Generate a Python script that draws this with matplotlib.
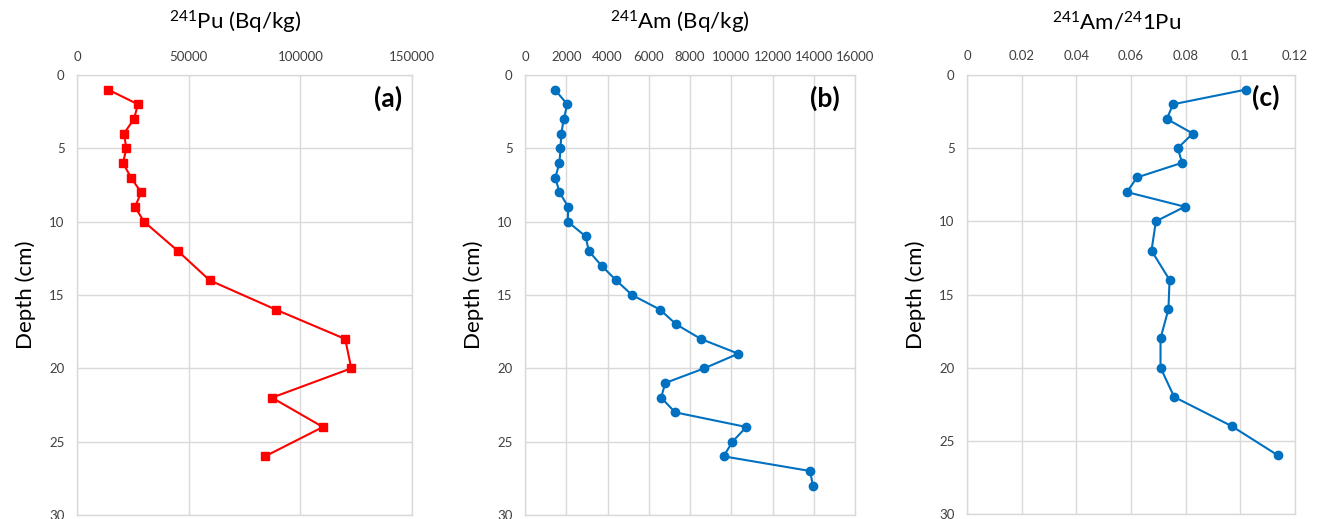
import matplotlib
matplotlib.use("Agg")
import matplotlib.pyplot as plt

plt.rcParams['font.family'] = ['Lato', 'DejaVu Sans']
plt.rcParams['mathtext.fontset'] = 'custom'
plt.rcParams['mathtext.rm'] = 'Lato'
plt.rcParams['mathtext.it'] = 'Lato:italic'
plt.rcParams['mathtext.bf'] = 'Lato:bold'

# --- data ---
depth_pu = [1, 2, 3, 4, 5, 6, 7, 8, 9, 10, 12, 14, 16, 18, 20, 22, 24, 26]
pu241 = [14000, 27300, 25500, 21000, 22100, 20600, 24200, 28700, 26000, 30000,
         45200, 59400, 89100, 120100, 122800, 87300, 110100, 84200]

depth_am = list(range(1, 29))
am241 = [1450, 2050, 1880, 1760, 1720, 1670, 1470, 1670, 2100, 2070,
         2940, 3090, 3710, 4420, 5190, 6550, 7330, 8530, 10340, 8690,
         6800, 6600, 7280, 10730, 10060, 9630, 13820, 13960]

depth_ratio = [1, 2, 3, 4, 5, 6, 7, 8, 9, 10, 12, 14, 16, 18, 20, 22, 24, 26]
ratio = [0.102, 0.0754, 0.0731, 0.0826, 0.0771, 0.0787, 0.0622, 0.0585, 0.0797,
         0.0691, 0.0675, 0.0741, 0.0737, 0.0708, 0.0708, 0.0758, 0.0969, 0.1138]

W, H = 1318, 519
fig = plt.figure(figsize=(W / 100, H / 100), dpi=100)


def make_axes(x0, x1, y0, y1):
    return fig.add_axes([x0 / W, 1 - y1 / H, (x1 - x0) / W, (y1 - y0) / H])


def style(ax, xmax, xticks, xticklabels, letter, lx):
    ax.set_ylim(30, 0)
    ax.set_xlim(0, xmax)
    ax.set_yticks([0, 5, 10, 15, 20, 25, 30])
    ax.set_xticks(xticks)
    ax.set_xticklabels(xticklabels)
    ax.xaxis.tick_top()
    ax.tick_params(length=0, labelsize=9.5, pad=9, colors='#404040')
    ax.grid(True, color='#d9d9d9', linewidth=1)
    ax.set_axisbelow(True)
    for s in ax.spines.values():
        s.set_color('#d9d9d9')
        s.set_linewidth(1)
    ax.set_ylabel('Depth (cm)', fontsize=16, labelpad=9)
    ax.text(lx, 0.948, letter, transform=ax.transAxes, ha='center', va='center',
            fontsize=19, fontweight='bold')


# (a) 241Pu
ax1 = make_axes(77, 412, 75, 515)
ax1.plot(pu241, depth_pu, color='#ff0000', marker='s', markersize=6, linewidth=1.5)
style(ax1, 150000, [0, 50000, 100000, 150000], ['0', '50000', '100000', '150000'], '(a)', 0.93)
fig.text(235 / W, 1 - 22 / H, r'$^{241}$Pu (Bq/kg)', ha='center', va='center', fontsize=16)

# (b) 241Am
ax2 = make_axes(525, 855, 75, 515)
ax2.plot(am241, depth_am, color='#0070c0', marker='o', markersize=6, linewidth=1.5)
bt = list(range(0, 16001, 2000))
style(ax2, 16000, bt, [str(v) for v in bt], '(b)', 0.91)
fig.text(680 / W, 1 - 22 / H, r'$^{241}$Am (Bq/kg)', ha='center', va='center', fontsize=16)

# (c) ratio
ax3 = make_axes(967, 1295, 75, 514)
ax3.plot(ratio, depth_ratio, color='#0070c0', marker='o', markersize=6, linewidth=1.5)
ct = [0, 0.02, 0.04, 0.06, 0.08, 0.1, 0.12]
style(ax3, 0.12, ct, ['0', '0.02', '0.04', '0.06', '0.08', '0.1', '0.12'], '(c)', 0.91)
fig.text(1117 / W, 1 - 22 / H, r'$^{241}$Am/$^{24}$1Pu', ha='center', va='center', fontsize=16)

fig.savefig('out.png', dpi=100, facecolor='white')
